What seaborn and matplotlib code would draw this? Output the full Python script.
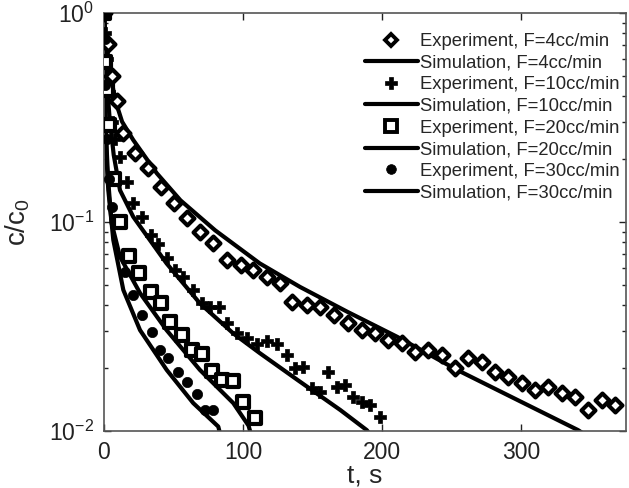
import matplotlib
matplotlib.use("Agg")
import matplotlib.pyplot as plt
import seaborn as sns
import pandas as pd
from matplotlib.lines import Line2D
from matplotlib.ticker import LogLocator, NullFormatter, FixedLocator

# ---------------- data ----------------
# Experiment, F=4cc/min (diamonds)
exp4_t = [0, 3, 6, 9, 13.7, 22.3, 31.7, 41.0, 50.4, 59.7, 69.1, 78.4, 88.5, 98.6,
          107.2, 117.3, 126.6, 135.3, 146.0, 155.4, 165.5, 175.5, 185.6, 195.0,
          204.3, 214.4, 223.7, 233.1, 243.2, 252.5, 261.9, 271.9, 281.3, 290.6,
          300.7, 310.1, 319.4, 329.5, 338.8, 348.2, 358.3, 367.6]
exp4_c = [1.0, 0.71, 0.50, 0.38, 0.267, 0.214, 0.181, 0.147, 0.123, 0.1045, 0.0896,
          0.0794, 0.0658, 0.0623, 0.0589, 0.0545, 0.0511, 0.0414, 0.0401, 0.0392,
          0.0359, 0.0329, 0.0304, 0.0294, 0.0272, 0.0264, 0.0239, 0.0244, 0.0231,
          0.0200, 0.0223, 0.0214, 0.0191, 0.0181, 0.0170, 0.0157, 0.0162, 0.0152,
          0.0146, 0.0126, 0.0141, 0.0133]

# Experiment, F=10cc/min (plus)
exp10_t = [0, 1, 2, 3.5, 5.5, 8, 11.5, 16.3, 20.9, 27.3, 33.8, 38.5, 45.3, 51.1, 56.8,
           64.0, 70.3, 76.3, 82.7, 88.8, 96.0, 102.9, 109.9, 117.1, 124.2, 131.4,
           137.4, 143.2, 149.4, 155.4, 161.2, 167.4, 173.4, 179.1, 185.4, 191.4, 198.6]
exp10_c = [1.0, 0.8, 0.6, 0.42, 0.3, 0.25, 0.205, 0.155, 0.123, 0.106, 0.0867, 0.0785,
           0.0673, 0.0589, 0.0545, 0.0473, 0.0410, 0.0392, 0.0392, 0.0329, 0.0294,
           0.0279, 0.0261, 0.0270, 0.0261, 0.0231, 0.0200, 0.0202, 0.0161, 0.0154,
           0.0191, 0.0162, 0.0166, 0.0146, 0.0138, 0.0133, 0.0117]

# Experiment, F=20cc/min (squares)
exp20_t = [0, 1, 2, 3.5, 7, 11.5, 18, 25.2, 33.8, 41, 47.5, 55.9, 63.1, 70.5, 77.7,
           84.9, 92.8, 100, 108.6]
exp20_c = [1.0, 0.58, 0.43, 0.29, 0.16, 0.1, 0.0687, 0.057, 0.0462, 0.041, 0.0332,
           0.0288, 0.0244, 0.0233, 0.0194, 0.0175, 0.0173, 0.0138, 0.0115]

# Experiment, F=30cc/min (filled circles)
exp30_t = [0, 0.5, 1, 2, 3.5, 5.5, 15.1, 21.1, 27.1, 34.3, 40.3, 46.3, 53.5, 59.5,
           66.7, 72.7, 78.6]
exp30_c = [1.0, 0.75, 0.45, 0.25, 0.16, 0.118, 0.0578, 0.0448, 0.0359, 0.0299,
           0.0244, 0.0223, 0.0192, 0.0172, 0.0151, 0.0126, 0.0126]

# Simulations
sim4_t = [0, 1, 2, 4, 8, 13, 21, 38, 55, 80, 112, 141, 175, 211, 254, 300, 341, 344]
sim4_c = [1.0, 0.794, 0.676, 0.537, 0.384, 0.302, 0.247, 0.171, 0.127, 0.0912,
          0.0634, 0.0489, 0.0372, 0.0282, 0.0196, 0.0138, 0.0101, 0.0098]

sim10_t = [0, 1, 2, 4, 7, 11.5, 21, 45, 69, 93, 112, 140, 170, 189, 191]
sim10_c = [1.0, 0.631, 0.468, 0.316, 0.209, 0.142, 0.106, 0.0634, 0.0408, 0.0293,
           0.0236, 0.0174, 0.0126, 0.0101, 0.0097]

sim20_t = [0, 0.5, 1, 2, 3, 5.5, 11.5, 26, 45, 69, 93, 104, 106]
sim20_c = [1.0, 0.501, 0.347, 0.219, 0.158, 0.0986, 0.0682, 0.0456, 0.0304,
           0.0196, 0.0136, 0.0106, 0.0095]

sim30_t = [0, 0.5, 1, 2, 3.1, 6.7, 13.9, 25.9, 45.1, 64.2, 82.2, 83.5]
sim30_c = [1.0, 0.447, 0.302, 0.191, 0.142, 0.082, 0.0473, 0.0304, 0.0196,
           0.0136, 0.0105, 0.0097]

labels = ["Experiment, F=4cc/min", "Simulation, F=4cc/min",
          "Experiment, F=10cc/min", "Simulation, F=10cc/min",
          "Experiment, F=20cc/min", "Simulation, F=20cc/min",
          "Experiment, F=30cc/min", "Simulation, F=30cc/min"]

# ---------------- style ----------------
sns.set_style("ticks")
plt.rcParams["font.family"] = ["Liberation Sans", "DejaVu Sans"]
plt.rcParams["mathtext.fontset"] = "custom"
plt.rcParams["mathtext.rm"] = "Liberation Sans"
plt.rcParams["mathtext.it"] = "Liberation Sans:italic"
plt.rcParams["mathtext.default"] = "regular"

fig = plt.figure(figsize=(6.29, 4.88), dpi=100)
ax = fig.add_axes([104 / 629, 1 - 431 / 488, 522 / 629, 418 / 488])

LW = 3.0
sims = [(sim4_t, sim4_c), (sim10_t, sim10_c), (sim20_t, sim20_c), (sim30_t, sim30_c)]
for t, c in sims:
    sns.lineplot(x=t, y=c, ax=ax, color="black", linewidth=LW, sort=False,
                 estimator=None, zorder=2)

marker_specs = [
    dict(marker="D", s=50, color="white", edgecolor="black", linewidth=3.0),
    dict(marker="P", s=85, color="black", edgecolor="black", linewidth=0.5),
    dict(marker="s", s=72, color="white", edgecolor="black", linewidth=3.0),
    dict(marker="o", s=55, color="black", edgecolor="black", linewidth=0.5),
]
exps = [(exp4_t, exp4_c), (exp10_t, exp10_c), (exp20_t, exp20_c), (exp30_t, exp30_c)]
for (t, c), spec in zip(exps, marker_specs):
    sns.scatterplot(x=t, y=c, ax=ax, zorder=3, **spec)

ax.set_yscale("log")
ax.set_ylim(0.01, 1)
ax.set_xlim(0, 375.5)
ax.xaxis.set_major_locator(FixedLocator([0, 100, 200, 300]))
ax.yaxis.set_major_locator(LogLocator(base=10, numticks=10))
ax.yaxis.set_minor_locator(LogLocator(base=10, subs=range(2, 10), numticks=20))
ax.yaxis.set_minor_formatter(NullFormatter())

ax.tick_params(which="both", direction="in", top=True, right=True,
               labelsize=16.5, colors="#222222", width=1)
ax.tick_params(which="major", length=5, pad=7)
ax.tick_params(which="minor", length=3)
for sp in ax.spines.values():
    sp.set_color("#555555")
    sp.set_linewidth(1.2)

ax.set_xlabel("t, s", fontsize=19, labelpad=0)
ax.set_ylabel("c/c$_0$", fontsize=20, labelpad=12)

# ---------------- legend ----------------
handles = [
    Line2D([], [], ls="", marker="D", ms=6.6, mfc="white", mec="black", mew=2.8),
    Line2D([], [], color="black", lw=LW),
    Line2D([], [], ls="", marker="P", ms=9, mfc="black", mec="black", mew=0.5),
    Line2D([], [], color="black", lw=LW),
    Line2D([], [], ls="", marker="s", ms=8.1, mfc="white", mec="black", mew=2.8),
    Line2D([], [], color="black", lw=LW),
    Line2D([], [], ls="", marker="o", ms=7, mfc="black", mec="black", mew=0.5),
    Line2D([], [], color="black", lw=LW),
]
ax.legend(handles, labels, loc="upper right", bbox_to_anchor=(0.9885, 0.952),
          frameon=False, fontsize=13.3, handlelength=2.9, handletextpad=0.12,
          labelspacing=0.25, borderpad=0, borderaxespad=0)

fig.savefig("out.png", dpi=100)
